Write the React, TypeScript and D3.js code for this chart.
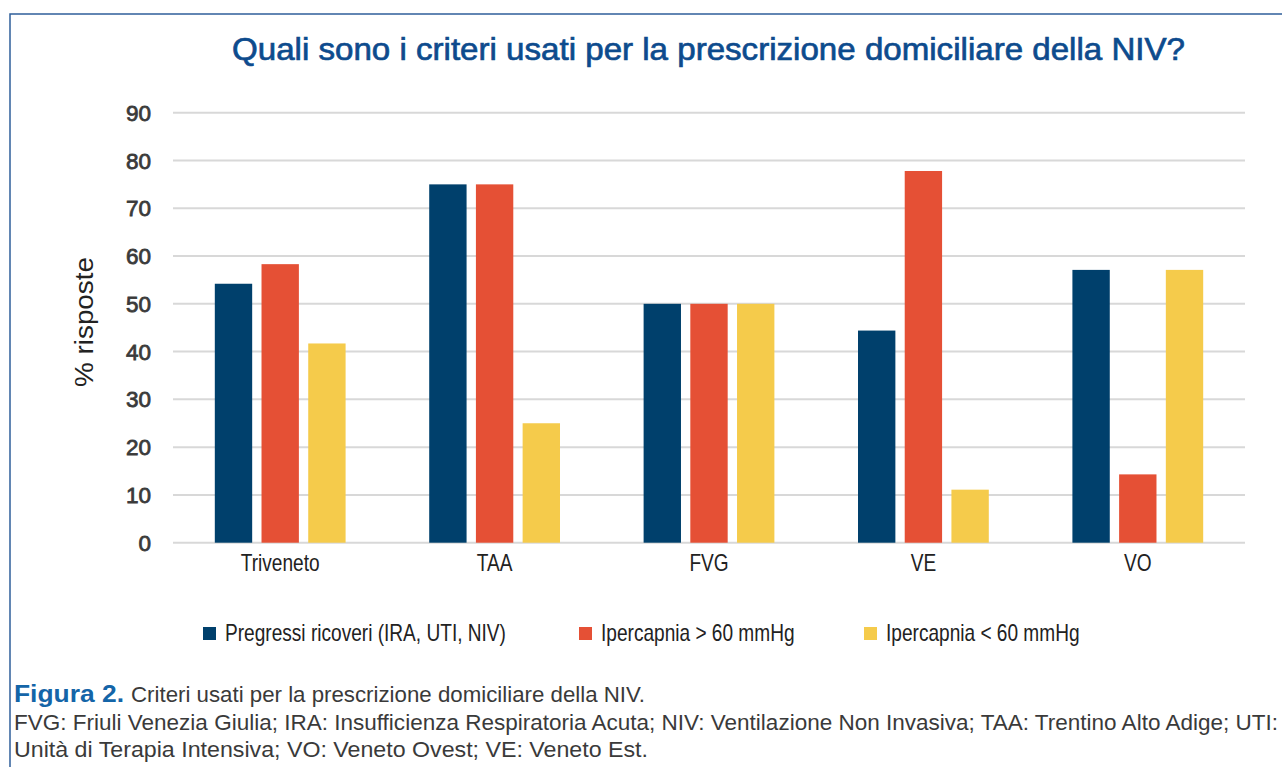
import React from "react";
import * as d3 from "d3";

const categories = ["Triveneto", "TAA", "FVG", "VE", "VO"];
const seriesNames = [
  "Pregressi ricoveri (IRA, UTI, NIV)",
  "Ipercapnia > 60 mmHg",
  "Ipercapnia < 60 mmHg",
];
const pregressi = [54.2, 75, 50, 44.4, 57.1];
const iperSopra = [58.3, 75, 50, 77.8, 14.3];
const iperSotto = [41.7, 25, 50, 11.1, 57.1];
const yTicks = [0, 10, 20, 30, 40, 50, 60, 70, 80, 90];
const colors = ["#00406c", "#e55035", "#f5cb4b"];

const W = 1282;
const H = 767;
const plot = { left: 173, right: 1245, top: 112.7, bottom: 542.7 };

const sans = "'Liberation Sans', Arial, Helvetica, sans-serif";
// the source uses a condensed grotesque; squeeze Liberation Sans to match
const squeeze = 0.83;

const App = () => {
  const series = [pregressi, iperSopra, iperSotto];

  const x = d3
    .scaleBand<string>()
    .domain(categories)
    .range([plot.left, plot.right])
    .paddingInner(0.39)
    .paddingOuter(0.195);

  const inner = d3
    .scaleBand<number>()
    .domain([0, 1, 2])
    .range([0, x.bandwidth()])
    .paddingInner(0.2);

  const y = d3.scaleLinear().domain([0, 90]).range([plot.bottom, plot.top]);

  const legendX = [203, 579, 864];

  return (
    <div style={{ position: "absolute", left: 0, top: 0 }}>
      <svg width={W} height={H} style={{ display: "block", background: "#fff" }}>
        {/* frame */}
        <rect x={10} y={14} width={W} height={H} fill="none" stroke="#2f5f9a" strokeWidth={1.5} />

        <text
          x={232}
          y={60}
          fontFamily={sans}
          fontSize={32}
          textLength={953}
          lengthAdjust="spacingAndGlyphs"
          fill="#0d4b8d"
          stroke="#0d4b8d"
          strokeWidth={0.7}
        >
          Quali sono i criteri usati per la prescrizione domiciliare della NIV?
        </text>

        {/* grid + y labels */}
        {yTicks.map((t) => (
          <g key={t}>
            <line
              x1={plot.left}
              x2={plot.right}
              y1={y(t)}
              y2={y(t)}
              stroke="#d8d8d8"
              strokeWidth={2}
            />
            <text
              x={151}
              y={y(t)}
              dy="0.36em"
              textAnchor="end"
              fontFamily={sans}
              fontSize={22.5}
              fill="#3a3a3a"
              stroke="#3a3a3a"
              strokeWidth={0.8}
            >
              {t}
            </text>
          </g>
        ))}

        <text
          transform={`translate(93,${322}) rotate(-90)`}
          textAnchor="middle"
          fontFamily={sans}
          fontSize={25}
          textLength={130}
          lengthAdjust="spacingAndGlyphs"
          fill="#222"
        >
          % risposte
        </text>

        {/* bars */}
        {categories.map((c, ci) => (
          <g key={c} transform={`translate(${x(c)},0)`}>
            {series.map((s, si) => (
              <rect
                key={si}
                x={inner(si)}
                y={y(s[ci])}
                width={inner.bandwidth()}
                height={y(0) - y(s[ci])}
                fill={colors[si]}
              />
            ))}
          </g>
        ))}

        {/* x labels */}
        {categories.map((c) => (
          <text
            key={c}
            transform={`translate(${(x(c) as number) + x.bandwidth() / 2},571) scale(${squeeze},1)`}
            textAnchor="middle"
            fontFamily={sans}
            fontSize={23}
            fill="#222"
          >
            {c}
          </text>
        ))}

        {/* legend */}
        {seriesNames.map((n, i) => (
          <g key={n}>
            <rect x={legendX[i]} y={627} width={13} height={13} fill={colors[i]} />
            <text
              transform={`translate(${legendX[i] + 22},641) scale(${squeeze},1)`}
              fontFamily={sans}
              fontSize={23}
              fill="#222"
            >
              {n}
            </text>
          </g>
        ))}

        {/* caption */}
        <text
          x={14}
          y={702}
          fontFamily={sans}
          fontSize={23}
          fontWeight={700}
          textLength={110}
          lengthAdjust="spacingAndGlyphs"
          fill="#1465a8"
        >
          Figura 2.
        </text>
        <text
          x={131}
          y={702}
          fontFamily={sans}
          fontSize={22.5}
          textLength={514}
          lengthAdjust="spacingAndGlyphs"
          fill="#3a3a3a"
        >
          Criteri usati per la prescrizione domiciliare della NIV.
        </text>
        <text
          x={14}
          y={729.5}
          fontFamily={sans}
          fontSize={22.5}
          textLength={1264}
          lengthAdjust="spacingAndGlyphs"
          fill="#3a3a3a"
        >
          FVG: Friuli Venezia Giulia; IRA: Insufficienza Respiratoria Acuta; NIV: Ventilazione Non Invasiva; TAA: Trentino Alto Adige; UTI:
        </text>
        <text
          x={14}
          y={757}
          fontFamily={sans}
          fontSize={22.5}
          textLength={634}
          lengthAdjust="spacingAndGlyphs"
          fill="#3a3a3a"
        >
          Unità di Terapia Intensiva; VO: Veneto Ovest; VE: Veneto Est.
        </text>
      </svg>
    </div>
  );
};

export default App;
